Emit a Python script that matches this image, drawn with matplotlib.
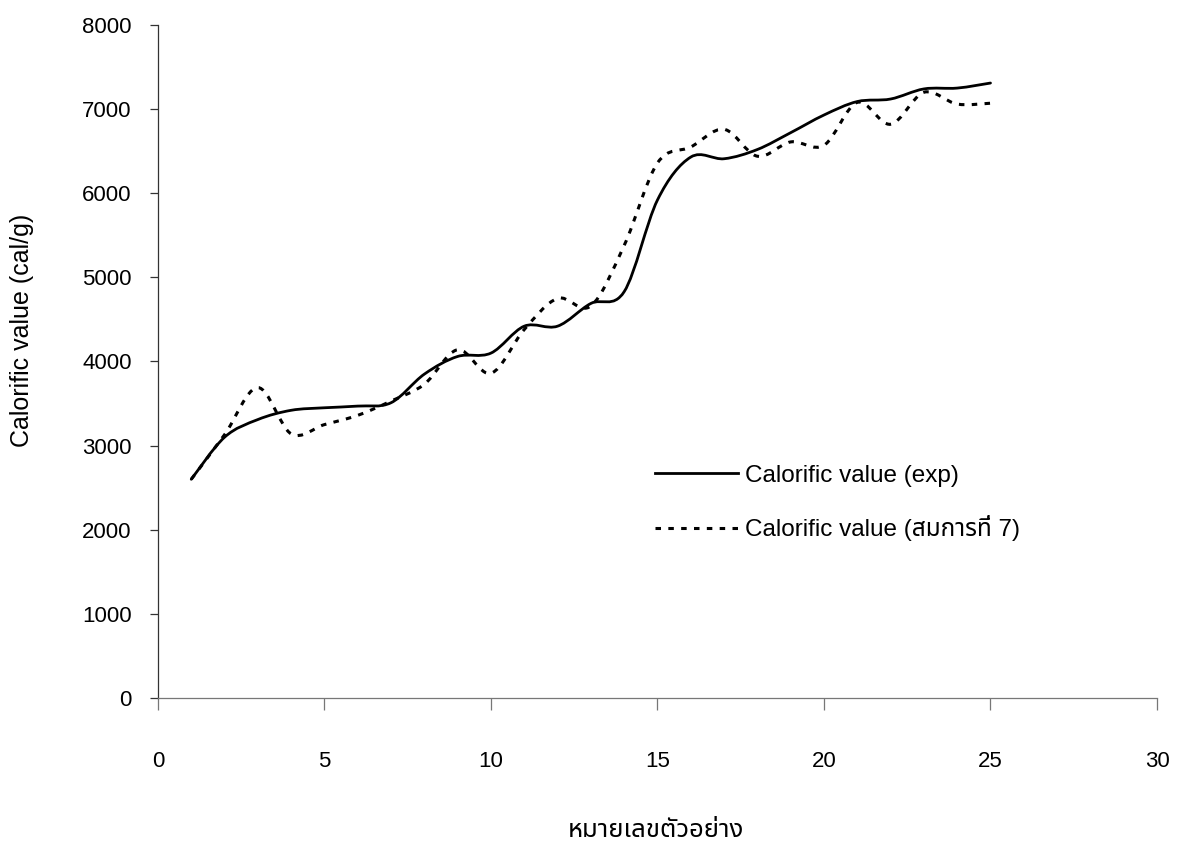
import numpy as np
import matplotlib.pyplot as plt
from matplotlib.path import Path
from matplotlib.patches import PathPatch
from matplotlib.lines import Line2D

plt.rcParams['font.family'] = ['Liberation Sans', 'Noto Sans Thai', 'Loma', 'Garuda',
                               'Noto Sans', 'DejaVu Sans']

# ข้อมูล (อ่านจากกราฟ)
sample_no = list(range(1, 26))
cal_exp = [2600, 3100, 3310, 3420, 3450, 3470, 3510, 3850, 4060, 4100,
           4420, 4420, 4690, 4830, 5920, 6430, 6410, 6520, 6720, 6930,
           7090, 7120, 7240, 7250, 7310]
cal_eq7 = [2600, 3130, 3690, 3140, 3250, 3360, 3530, 3730, 4140, 3860,
           4380, 4750, 4660, 5380, 6360, 6550, 6760, 6440, 6610, 6570,
           7080, 6820, 7200, 7060, 7070]

x_ticks = [0, 5, 10, 15, 20, 25, 30]
y_ticks = [0, 1000, 2000, 3000, 4000, 5000, 6000, 7000, 8000]

label_exp = 'Calorific value (exp)'
label_eq7 = 'Calorific value (สมการที่ 7)'
x_title = 'หมายเลขตัวอย่าง'
y_title = 'Calorific value (cal/g)'


# เส้นโค้งแบบ smooth (Catmull-Rom -> Bezier) เหมือน Excel
def smooth_path(xs, ys):
    p = np.column_stack([xs, ys]).astype(float)
    p_ext = np.vstack([p[0], p, p[-1]])
    verts = [p[0]]
    codes = [Path.MOVETO]
    for i in range(1, len(p_ext) - 2):
        p0, p1, p2, p3 = p_ext[i - 1], p_ext[i], p_ext[i + 1], p_ext[i + 2]
        c1 = p1 + (p2 - p0) / 6
        c2 = p2 - (p3 - p1) / 6
        verts += [c1, c2, p2]
        codes += [Path.CURVE4] * 3
    return Path(verts, codes)


fig = plt.figure(figsize=(11.84, 8.47), dpi=100)
ax = fig.add_axes([0.1334, 0.1759, 0.8438, 0.7946])

ax.add_patch(PathPatch(smooth_path(sample_no, cal_exp), fill=False,
                       edgecolor='black', linewidth=2.0, capstyle='round'))
ax.add_patch(PathPatch(smooth_path(sample_no, cal_eq7), fill=False,
                       edgecolor='black', linewidth=2.2,
                       linestyle=(0, (1.8, 2.4))))

ax.set_xlim(0, 30)
ax.set_ylim(0, 8000)
ax.set_xticks(x_ticks)
ax.set_yticks(y_ticks)
ax.set_xticklabels([str(v) for v in x_ticks])
ax.set_yticklabels([str(v) for v in y_ticks])

for s in ['top', 'right']:
    ax.spines[s].set_visible(False)
ax.spines['left'].set_color('#333333')
ax.spines['left'].set_linewidth(0.9)
ax.spines['bottom'].set_color('#777777')
ax.spines['bottom'].set_linewidth(0.9)

ax.tick_params(axis='x', direction='out', length=8.5, width=0.9,
               color='#777777', pad=30, labelsize=16)
ax.tick_params(axis='y', direction='out', length=6, width=0.9,
               color='#333333', pad=13, labelsize=16)

# ชื่อแกน
fig.text(22 / 1184, 1 - 330 / 847, y_title, rotation=90,
         ha='center', va='center', fontsize=18)
fig.text(656 / 1184, 1 - 830 / 847, x_title,
         ha='center', va='center', fontsize=18.5)

# คำอธิบายสัญลักษณ์
handles = [Line2D([], [], color='black', linewidth=2.0),
           Line2D([], [], color='black', linewidth=2.2,
                  linestyle=(0, (1.8, 2.4)))]
ax.legend(handles, [label_exp, label_eq7], loc='center left',
          bbox_to_anchor=(0.4975, 0.29), frameon=False, fontsize=17.5,
          handlelength=3.4, handletextpad=0.29, labelspacing=1.17,
          borderpad=0, borderaxespad=0)

fig.savefig('out.png', dpi=100)
